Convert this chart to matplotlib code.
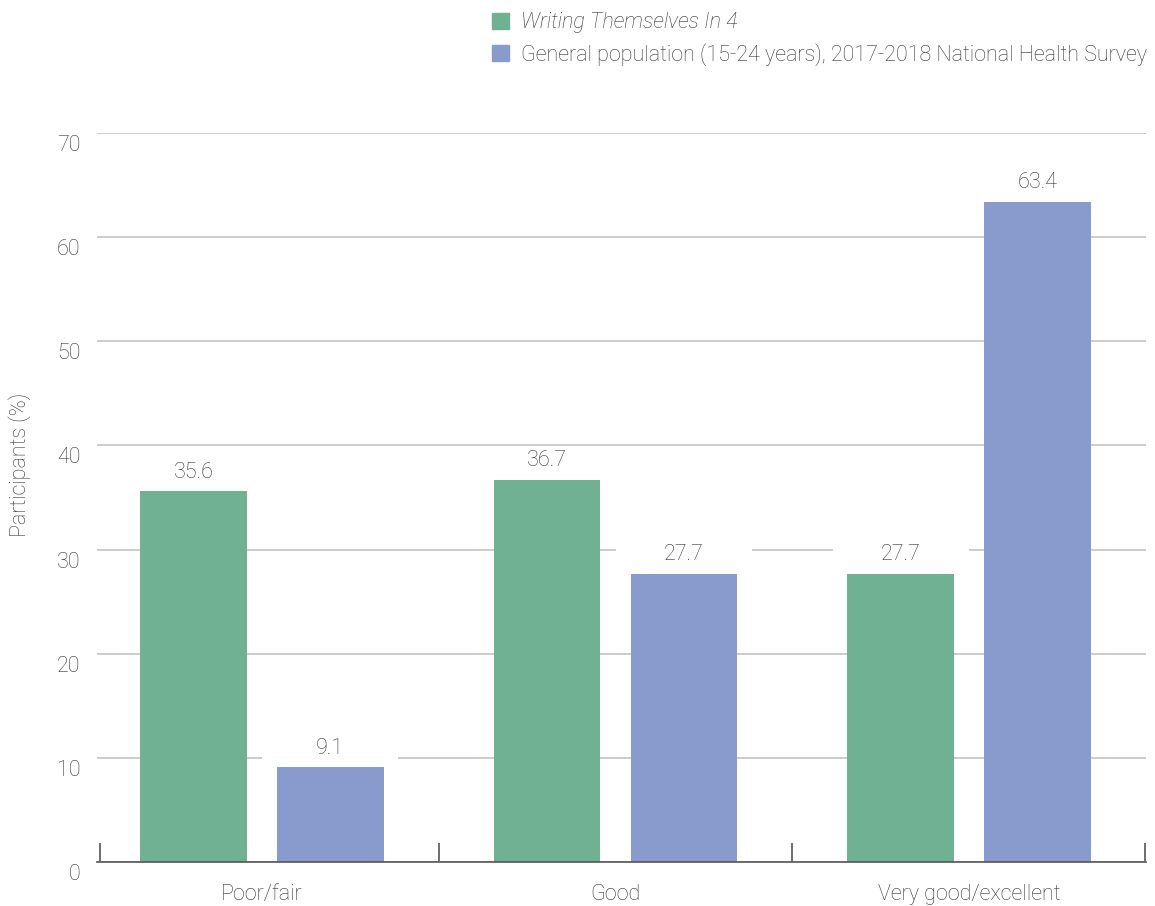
import numpy as np
import matplotlib.pyplot as plt
import matplotlib.transforms as mtransforms
from matplotlib.patches import Patch, Rectangle

plt.rcParams['font.family'] = ['Roboto', 'DejaVu Sans']
plt.rcParams['font.weight'] = 'light'

# Data
categories = ['Poor/fair', 'Good', 'Very good/excellent']
wti4 = [35.6, 36.7, 27.7]
general = [9.1, 27.7, 63.4]
series_names = ['Writing Themselves In 4',
                'General population (15-24 years), 2017-2018 National Health Survey']

green = '#6FB192'
blue = '#899BCD'
text_col = '#333333'
fs = 15.5

fig = plt.figure(figsize=(11.55, 9.06), dpi=100)
ax = fig.add_axes([97 / 1155, 44 / 906, (1146 - 97) / 1155, (862 - 133) / 906])

x = np.arange(len(categories))
w = 0.302
off = 0.1935
b1 = ax.bar(x - off, wti4, w, color=green, zorder=3)
b2 = ax.bar(x + off, general, w, color=blue, zorder=3)

# value labels, each on a white patch that breaks the gridlines
for bars, vals in [(b1, wti4), (b2, general)]:
    for rect, v in zip(bars, vals):
        cx = rect.get_x() + rect.get_width() / 2
        ax.add_patch(Rectangle((cx - 0.192, v), 0.384, 2.7, fc='white',
                               ec='none', zorder=2))
        ax.annotate(f'{v:.1f}', (cx, v), xytext=(0, 6),
                    textcoords='offset points', ha='center', va='bottom',
                    fontsize=fs, color=text_col, zorder=4)

ax.set_ylim(0, 70)
ax.set_xlim(-0.466, 2.5)
ax.set_yticks(range(0, 71, 10))
ax.yaxis.grid(True, color='#c4c4c4', linewidth=1.2, zorder=0)
ax.tick_params(axis='y', length=0, pad=12, labelsize=fs, labelcolor=text_col)
shift = mtransforms.ScaledTranslation(0, -10 / 100, fig.dpi_scale_trans)
for lab in ax.get_yticklabels():
    lab.set_transform(lab.get_transform() + shift)

# ticks between categories, labels at centres
ax.set_xticks([-0.458, 0.5, 1.5, 2.497])
ax.set_xticklabels([])
ax.tick_params(axis='x', which='major', direction='in', length=14,
               color='#555555', width=1.2)
ax.set_xticks(x, minor=True)
ax.set_xticklabels(categories, minor=True)
ax.tick_params(axis='x', which='minor', length=0, pad=16, labelsize=fs,
               labelcolor=text_col)

for s in ['top', 'right', 'left']:
    ax.spines[s].set_visible(False)
ax.spines['bottom'].set_color('#555555')
ax.spines['bottom'].set_linewidth(1.2)
ax.spines['bottom'].set_zorder(5)

ax.set_ylabel('Participants (%)', fontsize=fs, color=text_col, fontweight='light')
ax.yaxis.set_label_coords(-0.063, 0.545)

handles = [Patch(color=green), Patch(color=blue)]
leg = fig.legend(handles, series_names, loc='upper left',
                 bbox_to_anchor=(473 / 1155, 1 + 7 / 906), frameon=False,
                 fontsize=fs, handlelength=0.75, handleheight=0.75,
                 handletextpad=0.6, labelspacing=0.45, labelcolor=text_col)
leg.get_texts()[0].set_fontstyle('italic')

fig.savefig('out.png', dpi=100)
